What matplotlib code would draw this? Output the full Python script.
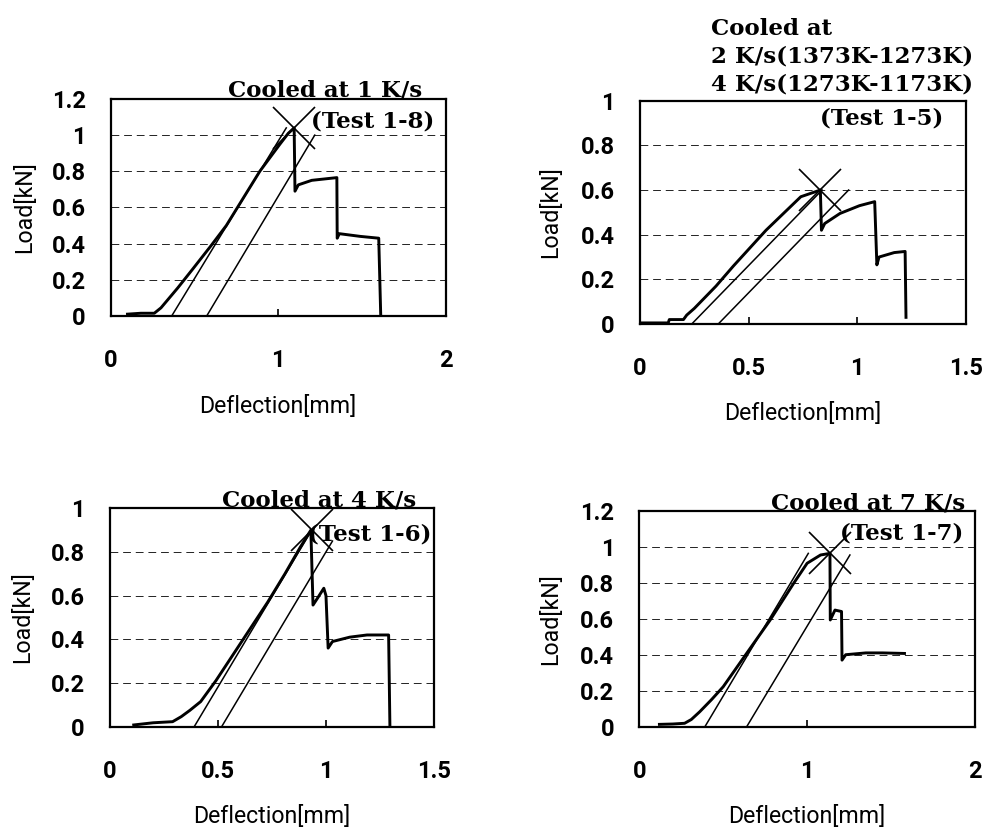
import matplotlib
matplotlib.use("Agg")
import matplotlib.pyplot as plt

# Test 1-8, cooled at 1 K/s
defl_18 = [0.10, 0.18, 0.26, 0.30, 0.40, 0.49, 0.60, 0.69, 0.89, 1.01, 1.06, 1.095, 1.10, 1.12, 1.20, 1.30, 1.35, 1.352, 1.365, 1.49, 1.60, 1.612]
load_18 = [0.010, 0.015, 0.015, 0.045, 0.155, 0.26, 0.39, 0.50, 0.80, 0.95, 1.01, 1.04, 0.69, 0.725, 0.75, 0.76, 0.765, 0.43, 0.455, 0.44, 0.43, 0.0]
tan_a_18 = ([0.364, 1.048], [0.0, 1.04])
tan_b_18 = ([0.573, 1.218], [0.0, 1.0])
peak_18 = ([1.095], [1.04])

# Test 1-5, cooled at 2 K/s then 4 K/s
defl_15 = [0.0, 0.13, 0.135, 0.20, 0.215, 0.25, 0.28, 0.35, 0.43, 0.58, 0.74, 0.83, 0.835, 0.85, 0.92, 1.01, 1.08, 1.09, 1.10, 1.17, 1.22, 1.224]
load_15 = [0.005, 0.005, 0.02, 0.02, 0.04, 0.07, 0.10, 0.17, 0.26, 0.42, 0.57, 0.60, 0.42, 0.45, 0.495, 0.53, 0.548, 0.265, 0.30, 0.32, 0.325, 0.03]
tan_a_15 = ([0.238, 0.838], [0.0, 0.6])
tan_b_15 = ([0.36, 0.96], [0.0, 0.6])
peak_15 = ([0.83], [0.60])

# Test 1-6, cooled at 4 K/s
defl_16 = [0.11, 0.20, 0.29, 0.33, 0.37, 0.42, 0.49, 0.57, 0.65, 0.73, 0.81, 0.88, 0.93, 0.94, 0.965, 0.99, 1.00, 1.01, 1.03, 1.11, 1.19, 1.29, 1.296]
load_16 = [0.008, 0.018, 0.023, 0.046, 0.075, 0.115, 0.21, 0.33, 0.45, 0.57, 0.70, 0.82, 0.90, 0.557, 0.595, 0.634, 0.60, 0.36, 0.39, 0.41, 0.42, 0.42, 0.0]
tan_a_16 = ([0.39, 0.934], [0.0, 0.9])
tan_b_16 = ([0.517, 1.03], [0.0, 0.85])
peak_16 = ([0.934], [0.90])

# Test 1-7, cooled at 7 K/s
defl_17 = [0.12, 0.20, 0.27, 0.31, 0.36, 0.43, 0.50, 0.64, 0.78, 0.92, 1.00, 1.08, 1.136, 1.138, 1.166, 1.205, 1.208, 1.23, 1.35, 1.45, 1.58]
load_17 = [0.013, 0.015, 0.019, 0.04, 0.083, 0.15, 0.222, 0.408, 0.593, 0.797, 0.908, 0.954, 0.963, 0.593, 0.648, 0.64, 0.37, 0.40, 0.41, 0.41, 0.407]
tan_a_17 = ([0.391, 1.007], [0.0, 0.963])
tan_b_17 = ([0.64, 1.255], [0.0, 0.954])
peak_17 = ([1.136], [0.963])

xticks_2 = [0, 1, 2]
xlabels_2 = ["0", "1", "2"]
xticks_15 = [0, 0.5, 1, 1.5]
xlabels_15 = ["0", "0.5", "1", "1.5"]
yticks_12 = [0, 0.2, 0.4, 0.6, 0.8, 1.0, 1.2]
ylabels_12 = ["0", "0.2", "0.4", "0.6", "0.8", "1", "1.2"]
yticks_10 = [0, 0.2, 0.4, 0.6, 0.8, 1.0]
ylabels_10 = ["0", "0.2", "0.4", "0.6", "0.8", "1"]

SERIF = dict(family="DejaVu Serif", weight="bold", size=16.5)

fig = plt.figure(figsize=(9.87, 8.33), dpi=100)


def draw_panel(rect, defl, load, tan_a, tan_b, peak, xticks, xlabels, yticks, ylabels,
               xlab_y, ylab_x):
    ax = fig.add_axes(rect)
    ax.set_axisbelow(True)
    ax.plot(defl, load, color="k", lw=2.1)
    ax.plot(tan_a[0], tan_a[1], color="k", lw=1.1)
    ax.plot(tan_b[0], tan_b[1], color="k", lw=1.1)
    ax.plot(peak[0], peak[1], ls="none", marker="x", ms=30, mew=1.2, color="k", clip_on=False)
    ax.set_xlim(xticks[0], xticks[-1])
    ax.set_ylim(yticks[0], yticks[-1])
    ax.set_xticks(xticks, xlabels)
    ax.set_yticks(yticks, ylabels)
    ax.tick_params(axis="x", direction="in", length=5, width=1.2, pad=24)
    ax.tick_params(axis="y", length=0, pad=18)
    for lab in ax.get_xticklabels() + ax.get_yticklabels():
        lab.set_fontfamily("Roboto")
        lab.set_fontweight("bold")
        lab.set_fontsize(17)
    ax.yaxis.grid(True, color="#222222", lw=0.7, ls=(0, (8, 5)))
    for sp in ax.spines.values():
        sp.set_linewidth(1.6)
    ax.set_xlabel("Deflection[mm]", family="Roboto", fontsize=16.7)
    ax.set_ylabel("Load[kN]", family="Roboto", fontsize=16.7)
    ax.xaxis.set_label_coords(0.5, xlab_y)
    ax.yaxis.set_label_coords(ylab_x, 0.5)
    return ax


ax1 = draw_panel([0.1122, 0.6207, 0.3394, 0.2605], defl_18, load_18, tan_a_18, tan_b_18, peak_18,
                 xticks_2, xlabels_2, yticks_12, ylabels_12, -0.365, -0.223)
ax1.text(0.93, 1.01, "Cooled at 1 K/s", transform=ax1.transAxes, ha="right", va="baseline", **SERIF)
ax1.text(0.967, 0.897, "(Test 1-8)", transform=ax1.transAxes, ha="right", va="center", **SERIF)

ax2 = draw_panel([0.6484, 0.611, 0.3303, 0.2681], defl_15, load_15, tan_a_15, tan_b_15, peak_15,
                 xticks_15, xlabels_15, yticks_10, ylabels_10, -0.348, -0.240)
ax2.text(0.217, 1.025, "Cooled at\n2 K/s(1373K-1273K)\n4 K/s(1273K-1173K)", transform=ax2.transAxes,
         ha="left", va="bottom", linespacing=1.32, **SERIF)
ax2.text(0.552, 0.921, "(Test 1-5)", transform=ax2.transAxes, ha="left", va="center", **SERIF)

ax3 = draw_panel([0.1114, 0.1276, 0.3283, 0.2622], defl_16, load_16, tan_a_16, tan_b_16, peak_16,
                 xticks_15, xlabels_15, yticks_10, ylabels_10, -0.359, -0.235)
ax3.text(0.944, 1.01, "Cooled at 4 K/s", transform=ax3.transAxes, ha="right", va="baseline", **SERIF)
ax3.text(0.993, 0.878, "(Test 1-6)", transform=ax3.transAxes, ha="right", va="center", **SERIF)

ax4 = draw_panel([0.6477, 0.1276, 0.3401, 0.2593], defl_17, load_17, tan_a_17, tan_b_17, peak_17,
                 xticks_2, xlabels_2, yticks_12, ylabels_12, -0.362, -0.231)
ax4.text(0.97, 1.005, "Cooled at 7 K/s", transform=ax4.transAxes, ha="right", va="baseline", **SERIF)
ax4.text(0.965, 0.895, "(Test 1-7)", transform=ax4.transAxes, ha="right", va="center", **SERIF)

fig.savefig("out.png", dpi=100)
